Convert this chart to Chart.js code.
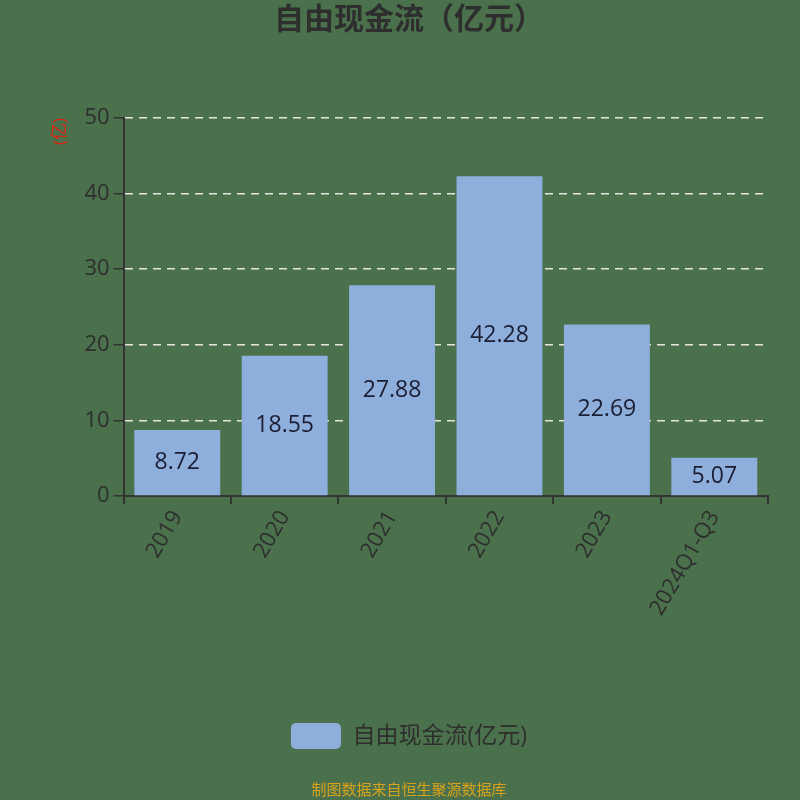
<!DOCTYPE html>
<html>
<head>
<meta charset="utf-8">
<script src="https://cdn.jsdelivr.net/npm/chart.js@4"></script>
<style>
    html, body { margin: 0; padding: 0; background: #4a714c; }
    #wrap { width: 800px; height: 800px; }
</style>
</head>
<body>
<div id="wrap"><canvas id="myChart" width="800" height="800"></canvas></div>
<script>
    let years = ['2019', '2020', '2021', '2022', '2023', '2024Q1-Q3'];
    let cashFlow = [8.72, 18.55, 27.88, 42.28, 22.69, 5.07];
    let yTicks = [0, 10, 20, 30, 40, 50];

    let fontFamily = '"Open Sans", "Noto Sans CJK SC", sans-serif';
    let textColor = '#2e2e2e';

    // value text in the middle of each bar
    let barLabels = {
        id: 'barLabels',
        afterDatasetsDraw(chart) {
            let ctx = chart.ctx;
            let meta = chart.getDatasetMeta(0);
            ctx.save();
            ctx.font = '23px ' + fontFamily;
            ctx.fillStyle = '#1b1e33';
            ctx.textAlign = 'center';
            ctx.textBaseline = 'middle';
            meta.data.forEach((bar, i) => {
                let mid = (bar.y + bar.base) / 2;
                ctx.fillText(cashFlow[i].toFixed(2), bar.x, mid);
            });
            ctx.restore();
        }
    };

    let ctx = document.getElementById('myChart');
    let myChart = new Chart(ctx, {
        type: 'bar',
        data: {
            labels: years,
            datasets: [{
                label: '自由现金流(亿元)',
                data: cashFlow,
                backgroundColor: '#8eaedc',
                borderWidth: 0,
                barPercentage: 0.8,
                categoryPercentage: 1
            }]
        },
        options: {
            responsive: false,
            animation: false,
            layout: {
                padding: { left: 50, right: 32, top: 0, bottom: 0 }
            },
            scales: {
                x: {
                    grid: {
                        drawOnChartArea: false,
                        tickColor: '#333333',
                        tickLength: 8,
                        lineWidth: 2
                    },
                    border: { color: '#333333', width: 2 },
                    ticks: {
                        color: textColor,
                        font: { family: fontFamily, size: 22 },
                        minRotation: 60,
                        maxRotation: 60,
                        padding: 2
                    },
                    afterFit(scale) {
                        scale.height = 217;
                    }
                },
                y: {
                    min: 0,
                    max: 50,
                    afterBuildTicks(scale) {
                        scale.ticks = yTicks.map(v => ({ value: v }));
                    },
                    grid: {
                        color: '#e6e6dc',
                        lineWidth: 1.5,
                        tickColor: '#333333',
                        tickLength: 10,
                        tickBorderDash: []
                    },
                    border: { color: '#333333', width: 2, dash: [8, 6] },
                    ticks: {
                        color: textColor,
                        font: { family: fontFamily, size: 22 },
                        padding: 4
                    },
                    title: {
                        display: true,
                        text: '(亿)',
                        color: '#dd2211',
                        align: 'end',
                        font: { family: fontFamily, size: 17 },
                        padding: { top: 0, bottom: 10 }
                    }
                }
            },
            plugins: {
                title: {
                    display: true,
                    text: '自由现金流（亿元）',
                    color: textColor,
                    font: { family: fontFamily, size: 30, weight: 'bold' },
                    padding: { top: 2, bottom: 80 }
                },
                subtitle: {
                    display: true,
                    position: 'bottom',
                    text: '制图数据来自恒生聚源数据库',
                    color: '#d9a21b',
                    font: { family: fontFamily, size: 15 },
                    padding: { top: 23, bottom: 0 }
                },
                legend: {
                    position: 'bottom',
                    labels: {
                        color: textColor,
                        font: { family: fontFamily, size: 23 },
                        boxWidth: 50,
                        boxHeight: 26,
                        useBorderRadius: true,
                        borderRadius: 5,
                        padding: 10
                    }
                },
                tooltip: { enabled: false }
            }
        },
        plugins: [barLabels]
    });
</script>
</body>
</html>
